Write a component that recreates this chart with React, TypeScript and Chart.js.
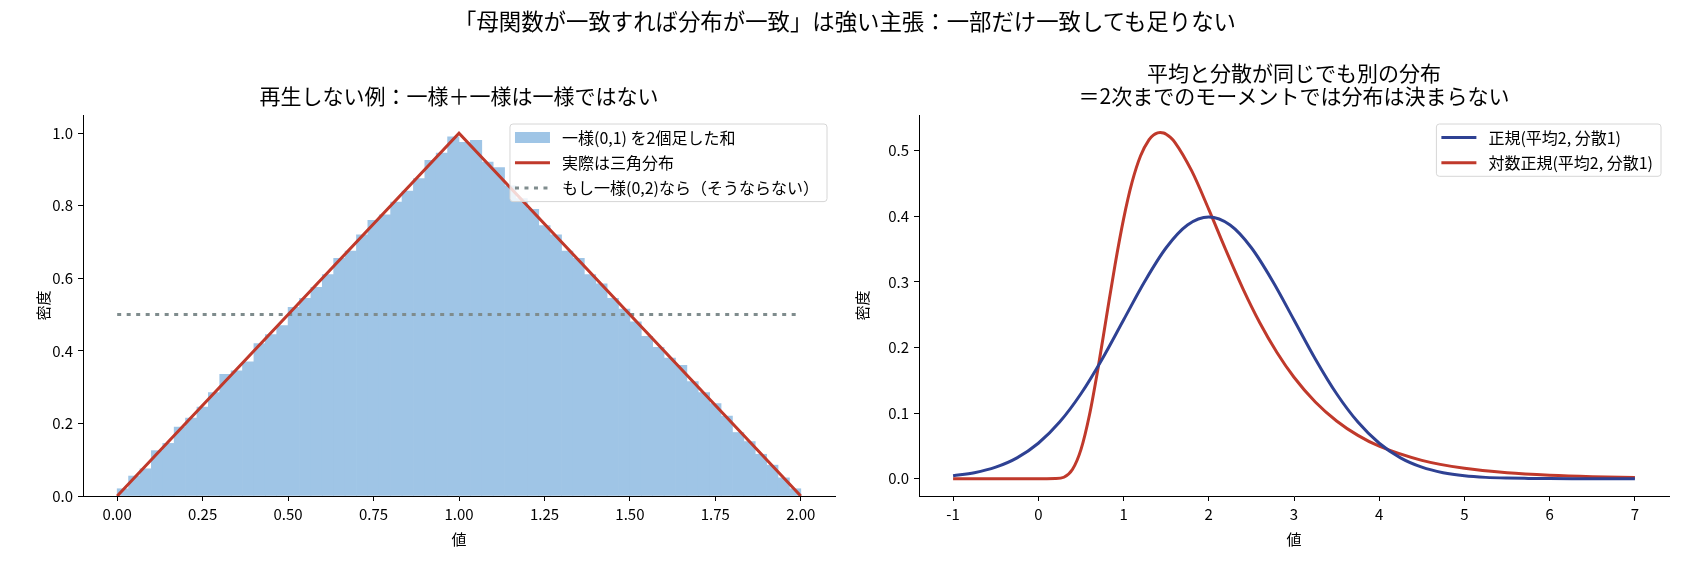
import { useEffect, useRef } from 'react';
import { Chart, registerables } from 'chart.js';

Chart.register(...registerables);

const FONT = '"Noto Sans CJK JP", "Noto Sans", sans-serif';

const SUPTITLE = '「母関数が一致すれば分布が一致」は強い主張：一部だけ一致しても足りない';
const LEFT_TITLE = '再生しない例：一様＋一様は一様ではない';
const RIGHT_TITLE = ['平均と分散が同じでも別の分布', '＝2次までのモーメントでは分布は決まらない'];

// 左: 一様(0,1)+一様(0,1) のヒストグラム (60 bins, 0〜2, 密度)
const histRange = [0, 2];
const histDensity = [
  0.02, 0.055, 0.075, 0.125, 0.145, 0.19, 0.215, 0.245, 0.285, 0.335,
  0.345, 0.37, 0.42, 0.445, 0.47, 0.52, 0.545, 0.575, 0.61, 0.655,
  0.675, 0.72, 0.76, 0.775, 0.81, 0.84, 0.875, 0.925, 0.945, 0.99,
  0.975, 0.98, 0.92, 0.905, 0.855, 0.82, 0.79, 0.745, 0.72, 0.675,
  0.655, 0.61, 0.585, 0.545, 0.515, 0.48, 0.44, 0.41, 0.38, 0.36,
  0.315, 0.285, 0.255, 0.22, 0.175, 0.15, 0.115, 0.085, 0.05, 0.02,
];
const triX = [0, 1, 2];
const triY = [0, 1, 0];
const flatX = [0, 2];
const flatY = [0.5, 0.5];
const leftXTicks = [0, 0.25, 0.5, 0.75, 1, 1.25, 1.5, 1.75, 2];
const leftYTicks = [0, 0.2, 0.4, 0.6, 0.8, 1.0];

// 右: 正規(2,1) と 対数正規(平均2, 分散1)
const normX = [-1, -0.75, -0.5, -0.25, 0, 0.25, 0.5, 0.75, 1, 1.25, 1.5, 1.75, 2, 2.25, 2.5, 2.75, 3, 3.25, 3.5, 3.75, 4, 4.25, 4.5, 4.75, 5, 5.25, 5.5, 5.75, 6, 6.5, 7];
const normY = [0.0044, 0.0091, 0.0175, 0.0317, 0.054, 0.0863, 0.1295, 0.1826, 0.242, 0.3011, 0.3521, 0.3867, 0.3989, 0.3867, 0.3521, 0.3011, 0.242, 0.1826, 0.1295, 0.0863, 0.054, 0.0317, 0.0175, 0.0091, 0.0044, 0.002, 0.0009, 0.0004, 0.0001, 0, 0];
const lognX = [-1, 0, 0.1, 0.2, 0.3, 0.4, 0.5, 0.6, 0.7, 0.8, 0.9, 1.0, 1.1, 1.2, 1.3, 1.35, 1.4, 1.43, 1.47, 1.5, 1.55, 1.6, 1.8, 2.0, 2.2, 2.4, 2.6, 2.8, 3.0, 3.25, 3.5, 3.75, 4.0, 4.5, 5.0, 5.5, 6.0, 6.5, 7.0];
const lognY = [0, 0, 0, 0.0001, 0.0022, 0.0139, 0.0443, 0.0971, 0.1678, 0.2473, 0.3259, 0.3957, 0.452, 0.4923, 0.517, 0.5238, 0.5273, 0.5279, 0.527, 0.5252, 0.5203, 0.5133, 0.4692, 0.4106, 0.3487, 0.2899, 0.2374, 0.1924, 0.1547, 0.1169, 0.088, 0.066, 0.0495, 0.0279, 0.0158, 0.0091, 0.0053, 0.0031, 0.0019];
const rightXTicks = [-1, 0, 1, 2, 3, 4, 5, 6, 7];
const rightYTicks = [0, 0.1, 0.2, 0.3, 0.4, 0.5];

const HIST_COLOR = '#9fc5e6';
const RED = '#c0392b';
const BLUE = '#2e4193';
const GRAY = '#7f8c8d';

const pts = (xs: number[], ys: number[]) => xs.map((x, i) => ({ x, y: ys[i] }));

// matplotlib 風の枠付き凡例をプロット内に描く
const insideLegend = {
  id: 'insideLegend',
  afterDraw(chart: any, _args: any, opts: any) {
    const items = opts.items as { label: string; kind: string; color: string }[];
    if (!items) return;
    const { ctx, chartArea } = chart;
    ctx.save();
    ctx.font = `16px ${FONT}`;
    const textW = Math.max(...items.map((it) => ctx.measureText(it.label).width));
    const rowH = 25.3;
    const w = 52 + textW + 8;
    const h = 27 + (items.length - 1) * rowH;
    const x0 = chartArea.right - 8 - w;
    const y0 = chartArea.top + 9;
    ctx.beginPath();
    ctx.roundRect(x0, y0, w, h, 3);
    ctx.fillStyle = 'rgba(255,255,255,0.8)';
    ctx.fill();
    ctx.strokeStyle = '#d6d6d6';
    ctx.lineWidth = 1;
    ctx.stroke();
    items.forEach((it, i) => {
      const cy = y0 + 13.5 + i * rowH;
      const sx = x0 + 5;
      const sw = 35;
      if (it.kind === 'patch') {
        ctx.fillStyle = it.color;
        ctx.fillRect(sx, cy - 5.5, sw, 11);
      } else {
        ctx.beginPath();
        ctx.strokeStyle = it.color;
        ctx.lineWidth = 3;
        ctx.lineCap = 'butt';
        ctx.setLineDash(it.kind === 'dots' ? [4, 5.5] : []);
        ctx.moveTo(sx, cy);
        ctx.lineTo(sx + sw, cy);
        ctx.stroke();
        ctx.setLineDash([]);
      }
      ctx.fillStyle = '#000';
      ctx.textBaseline = 'middle';
      ctx.textAlign = 'left';
      ctx.fillText(it.label, x0 + 52, cy);
    });
    ctx.restore();
  },
};

function scales(
  xr: number[], xt: number[], xd: number,
  yr: number[], yt: number[], yd: number,
  yWidth: number, yTitlePad: number,
) {
  const tickFont = { family: FONT, size: 15 };
  const common = {
    type: 'linear',
    offset: false,
    grid: { drawOnChartArea: false, drawTicks: true, tickLength: 5, color: '#000', offset: false },
    border: { display: true, color: '#000', width: 1 },
  };
  return {
    x: {
      ...common,
      position: 'bottom',
      min: xr[0],
      max: xr[1],
      afterBuildTicks: (s: any) => { s.ticks = xt.map((v) => ({ value: v })); },
      afterFit: (s: any) => { s.height = 76; },
      ticks: { font: tickFont, color: '#000', padding: 4, maxRotation: 0, autoSkip: false, callback: (v: any) => Number(v).toFixed(xd) },
      title: { display: true, text: '値', font: tickFont, color: '#000', padding: { top: 0, bottom: 24 } },
    },
    y: {
      ...common,
      position: 'left',
      min: yr[0],
      max: yr[1],
      afterBuildTicks: (s: any) => { s.ticks = yt.map((v) => ({ value: v })); },
      afterFit: (s: any) => { s.width = yWidth; },
      ticks: { font: tickFont, color: '#000', padding: 5, autoSkip: false, callback: (v: any) => Number(v).toFixed(yd) },
      title: { display: true, text: '密度', font: tickFont, color: '#000', padding: { top: yTitlePad, bottom: 0 } },
    },
  };
}

export default function App() {
  const leftRef = useRef<HTMLCanvasElement | null>(null);
  const rightRef = useRef<HTMLCanvasElement | null>(null);

  useEffect(() => {
    if (!leftRef.current || !rightRef.current) return;
    const binW = (histRange[1] - histRange[0]) / histDensity.length;
    const histPts = histDensity.map((d, i) => ({ x: histRange[0] + (i + 0.5) * binW, y: d }));

    const left = new Chart(leftRef.current, {
      type: 'bar',
      data: {
        datasets: [
          {
            type: 'bar',
            label: '一様(0,1) を2個足した和',
            data: histPts,
            backgroundColor: HIST_COLOR,
            borderWidth: 0,
            barPercentage: 1,
            categoryPercentage: 1,
            order: 3,
          },
          {
            type: 'line',
            label: '実際は三角分布',
            data: pts(triX, triY),
            borderColor: RED,
            borderWidth: 3,
            pointRadius: 0,
            tension: 0,
            order: 1,
          },
          {
            type: 'line',
            label: 'もし一様(0,2)なら（そうならない）',
            data: pts(flatX, flatY),
            borderColor: GRAY,
            borderWidth: 3,
            borderDash: [4, 5.5],
            borderCapStyle: 'butt',
            pointRadius: 0,
            order: 2,
          },
        ],
      } as any,
      options: {
        responsive: false,
        animation: false,
        layout: { padding: { top: 115, right: 10, bottom: 0, left: 0 } },
        plugins: {
          legend: { display: false },
          tooltip: { enabled: false },
          insideLegend: {
            items: [
              { label: '一様(0,1) を2個足した和', kind: 'patch', color: HIST_COLOR },
              { label: '実際は三角分布', kind: 'line', color: RED },
              { label: 'もし一様(0,2)なら（そうならない）', kind: 'dots', color: GRAY },
            ],
          },
        },
        scales: scales([-0.1, 2.1], leftXTicks, 2, [0, 1.05], leftYTicks, 1, 83, 34),
      } as any,
      plugins: [insideLegend],
    });

    const right = new Chart(rightRef.current, {
      type: 'line',
      data: {
        datasets: [
          {
            label: '正規(平均2, 分散1)',
            data: pts(normX, normY),
            borderColor: BLUE,
            borderWidth: 3,
            pointRadius: 0,
            cubicInterpolationMode: 'monotone',
          },
          {
            label: '対数正規(平均2, 分散1)',
            data: pts(lognX, lognY),
            borderColor: RED,
            borderWidth: 3,
            pointRadius: 0,
            cubicInterpolationMode: 'monotone',
          },
        ],
      } as any,
      options: {
        responsive: false,
        animation: false,
        layout: { padding: { top: 115, right: 21, bottom: 0, left: 0 } },
        plugins: {
          legend: { display: false },
          tooltip: { enabled: false },
          insideLegend: {
            items: [
              { label: '正規(平均2, 分散1)', kind: 'line', color: BLUE },
              { label: '対数正規(平均2, 分散1)', kind: 'line', color: RED },
            ],
          },
        },
        scales: scales([-1.4, 7.4], rightXTicks, 0, [-0.0264, 0.5545], rightYTicks, 1, 74, 8),
      } as any,
      plugins: [insideLegend],
    });

    return () => {
      left.destroy();
      right.destroy();
    };
  }, []);

  const center = { position: 'absolute' as const, transform: 'translate(-50%, -50%)', whiteSpace: 'nowrap' as const, color: '#000', textAlign: 'center' as const };

  return (
    <div style={{ position: 'fixed', left: 0, top: 0, width: 1690, height: 572, background: '#fff', fontFamily: FONT }}>
      <canvas ref={leftRef} width={845} height={572} style={{ position: 'absolute', left: 0, top: 0, width: 845, height: 572 }} />
      <canvas ref={rightRef} width={845} height={572} style={{ position: 'absolute', left: 845, top: 0, width: 845, height: 572 }} />
      <div style={{ ...center, left: 845, top: 20, fontSize: 22.4, lineHeight: '27px' }}>{SUPTITLE}</div>
      <div style={{ ...center, left: 459, top: 95, fontSize: 21, lineHeight: '25px' }}>{LEFT_TITLE}</div>
      <div style={{ ...center, left: 1294, top: 83.5, fontSize: 21, lineHeight: '23.5px' }}>
        {RIGHT_TITLE.map((t) => (
          <div key={t}>{t}</div>
        ))}
      </div>
    </div>
  );
}
